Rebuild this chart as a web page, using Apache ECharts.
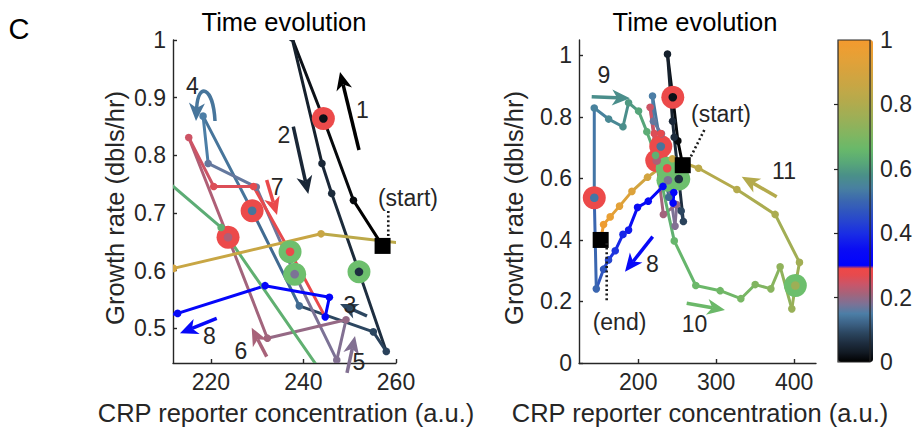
<!DOCTYPE html>
<html>
<head>
<meta charset="utf-8">
<script src="https://cdn.jsdelivr.net/npm/echarts@6/dist/echarts.min.js"></script>
<style>
  html, body { margin: 0; padding: 0; background: #fff; }
  #chart { width: 915px; height: 433px; }
</style>
</head>
<body>
<div id="chart"></div>
<script>
// ---- trajectory samples, in time order ----
const crp = [257.1, 250.8, 244.3, 237.5, 244.0, 246.1, 252.0, 257.9, 255.1, 239.1,
             228.9, 218.3, 219.4, 229.8, 238.1, 247.2, 249.2, 232.2, 223.7, 215.2,
             220.6, 229.2, 237.1, 244.7, 245.6, 231.7, 212.8, 199.1, 187.6, 180.4,
             170.5, 161.9, 155.5, 146.2, 143.6, 143.6, 162.0, 180.4, 187.6, 200.4,
             211.0, 222.2, 246.2, 273.8, 305.1, 331.6, 350.0, 370.1, 382.0, 397.0,
             401.5, 406.8, 375.6, 326.5, 277.3, 243.8, 211.9, 191.9, 176.0, 164.0,
             155.5, 151.8];
const growth = [0.643, 0.722, 0.864, 1.004, 0.786, 0.734, 0.598, 0.460, 0.494, 0.539,
                0.704, 0.868, 0.786, 0.745, 0.594, 0.445, 0.515, 0.483, 0.658, 0.831,
                0.746, 0.746, 0.633, 0.520, 0.554, 0.574, 0.526, 0.506, 0.432, 0.418,
                0.365, 0.335, 0.305, 0.241, 0.537, 0.829, 0.793, 0.768, 0.846, 0.819,
                0.752, 0.675, 0.397, 0.252, 0.235, 0.209, 0.255, 0.241, 0.313, 0.176,
                0.252, 0.327, 0.483, 0.564, 0.633, 0.664, 0.604, 0.558, 0.510, 0.475,
                0.450, 0.400];
// normalised time of each sample (0 = start, 1 = end)
const timeFrac = [0.000, 0.010, 0.020, 0.040, 0.050, 0.055, 0.060, 0.085, 0.090, 0.130,
                  0.140, 0.150, 0.165, 0.172, 0.180, 0.185, 0.200, 0.210, 0.220, 0.245,
                  0.260, 0.270, 0.280, 0.300, 0.310, 0.320, 0.335, 0.350, 0.370, 0.390,
                  0.410, 0.440, 0.470, 0.500, 0.525, 0.545, 0.560, 0.575, 0.595, 0.615,
                  0.630, 0.640, 0.655, 0.665, 0.675, 0.690, 0.705, 0.720, 0.735, 0.750,
                  0.760, 0.770, 0.790, 0.810, 0.830, 0.860, 0.890, 0.920, 0.940, 0.960,
                  0.980, 1.000];
// samples highlighted with a large disc
const redDiscAt = [2, 10, 18, 34];
const greenDiscAt = [6, 14, 22, 50];

// tick values
const leftXTicks = [220, 240, 260];
const leftYTicks = [0.5, 0.6, 0.7, 0.8, 0.9, 1];
const rightXTicks = [200, 300, 400];
const rightYTicks = [0, 0.2, 0.4, 0.6, 0.8, 1];
const barTicks = [0, 0.2, 0.4, 0.6, 0.8, 1];

// colormap stops (time fraction -> colour)
const cmapPos = [0, 0.03, 0.06, 0.09, 0.12, 0.15, 0.18, 0.21, 0.24, 0.27, 0.29, 0.292,
                 0.35, 0.40, 0.45, 0.50, 0.54, 0.58, 0.62, 0.66, 0.70, 0.75, 0.80, 0.85,
                 0.90, 0.95, 1];
const cmapHex = ['#000000', '#121a24', '#1e2e40', '#2c4660', '#3c6286', '#4c7ea6', '#7c7296',
                 '#a2647c', '#c8566a', '#e64a4e', '#ee4848', '#0000ff', '#0a0cf4', '#1a2ee4',
                 '#2a4cc8', '#3a66b0', '#4880a0', '#4a9088', '#58a878', '#68b86a', '#7eb662',
                 '#98b058', '#b0ab4e', '#c4a746', '#d6a33e', '#e6a036', '#f49a2e'];

// annotation arrows, in data coordinates of their panel
const arrows = [
  { panel: 0, label: '1', t: 0.00, from: [252.0, 0.8093], to: [247.9, 0.9445], text: [252.76, 0.8786] },
  { panel: 0, label: '2', t: 0.05, from: [237.8, 0.8497], to: [241.04, 0.733], text: [235.79, 0.8353] },
  { panel: 0, label: '3', t: 0.09, from: [253.73, 0.5215], to: [247.9, 0.5423], text: [250.06, 0.5406] },
  { panel: 0, label: '4', t: 0.14, from: [220.88, 0.8596], c1: [220.45, 0.9203], c2: [217.2, 0.9272], to: [216.77, 0.8596], text: [216.01, 0.9194] },
  { panel: 0, label: '5', t: 0.185, from: [249.41, 0.4227], to: [251.14, 0.4868], text: [252.0, 0.4409] },
  { panel: 0, label: '6', t: 0.215, from: [232.05, 0.451], to: [228.81, 0.5012], text: [226.5, 0.46] },
  { panel: 0, label: '7', t: 0.28, from: [232.05, 0.7573], to: [234.28, 0.6966], text: [234.3, 0.746] },
  { panel: 0, label: '8', t: 0.33, from: [221.25, 0.5175], to: [213.31, 0.4915], text: [219.69, 0.486] },
  { panel: 1, label: '9', t: 0.575, from: [140.29, 0.8657], to: [189.42, 0.8605], text: [156.07, 0.9362] },
  { panel: 1, label: '8', t: 0.33, from: [218.53, 0.4106], to: [183.0, 0.2968], text: [218.28, 0.3218] },
  { panel: 1, label: '10', t: 0.665, from: [262.14, 0.194], to: [311.27, 0.1723], text: [272.15, 0.1268] },
  { panel: 1, label: '11', t: 0.81, from: [377.6, 0.5406], to: [332.7, 0.6056], text: [386.95, 0.6241] }
];
// "(start)" / "(end)" callouts: text position and dotted leader
const callouts = [
  { panel: 0, text: '(start)', at: [262.59, 0.7261], lead: [[258.33, 0.7035], [258.33, 0.6567]] },
  { panel: 1, text: '(start)', at: [306.14, 0.8094], lead: [[284.72, 0.7574], [266.38, 0.6654]] },
  { panel: 1, text: '(end)', at: [175.95, 0.1349], lead: [[159.53, 0.3901], [159.53, 0.1983]] }
];

const FONT = '"Liberation Sans", Arial, Helvetica, sans-serif';
const INK = '#262626';
const RED_DISC = '#ec4a4a';
const GREEN_DISC = '#6dbf6d';

function hexToRgb(h) {
  return [parseInt(h.slice(1, 3), 16), parseInt(h.slice(3, 5), 16), parseInt(h.slice(5, 7), 16)];
}
function colorAt(t) {
  t = Math.max(0, Math.min(1, t));
  let k = 0;
  while (k < cmapPos.length - 2 && t > cmapPos[k + 1]) k++;
  const a = hexToRgb(cmapHex[k]), b = hexToRgb(cmapHex[k + 1]);
  const f = (t - cmapPos[k]) / (cmapPos[k + 1] - cmapPos[k]);
  const c = a.map((v, i) => Math.round(v + (b[i] - v) * Math.max(0, Math.min(1, f))));
  return 'rgb(' + c.join(',') + ')';
}
const barColors = [];
for (let k = 0; k <= 200; k++) barColors.push(colorAt(k / 200));

// rows: x, y, t, previous x, previous y, previous t, disc kind (0 none, 1 red, 2 green)
const trajRows = crp.map((x, i) => [
  x, growth[i], timeFrac[i],
  i > 0 ? crp[i - 1] : NaN, i > 0 ? growth[i - 1] : NaN, i > 0 ? timeFrac[i - 1] : NaN,
  redDiscAt.includes(i) ? 1 : (greenDiscAt.includes(i) ? 2 : 0)
]);
const last = crp.length - 1;
const squares = [[crp[0], growth[0]], [crp[last], growth[last]]];

function renderStep(params, api) {
  const p = api.coord([api.value(0), api.value(1)]);
  const children = [];
  const px = api.value(3);
  if (!isNaN(px)) {
    const q = api.coord([px, api.value(4)]);
    children.push({
      type: 'line', z2: 1,
      shape: { x1: q[0], y1: q[1], x2: p[0], y2: p[1] },
      style: { stroke: colorAt(api.value(5)), lineWidth: 3, lineCap: 'round' }
    });
  }
  const kind = api.value(6);
  if (kind) {
    children.push({
      type: 'circle', z2: 2,
      shape: { cx: p[0], cy: p[1], r: 11.5 },
      style: { fill: kind === 1 ? RED_DISC : GREEN_DISC }
    });
  }
  children.push({
    type: 'circle', z2: 3,
    shape: { cx: p[0], cy: p[1], r: kind ? 4.3 : 3.8 },
    style: { fill: colorAt(api.value(2)) }
  });
  return { type: 'group', children };
}

const fmt = v => String(+(+v).toFixed(2));

function valueAxis(grid, min, max, ticks, extra) {
  return Object.assign({
    type: 'value', gridIndex: grid, min: min, max: max,
    axisLine: { show: true, onZero: false, lineStyle: { color: INK, width: 1.4 } },
    axisTick: { show: true, inside: true, length: 4, customValues: ticks, lineStyle: { color: INK, width: 1.4 } },
    axisLabel: { customValues: ticks, formatter: fmt, color: INK, fontSize: 23, fontFamily: FONT, margin: 7 },
    splitLine: { show: false }
  }, extra || {});
}

const chart = echarts.init(document.getElementById('chart'), null, { renderer: 'svg' });

const squareStyle = { color: '#000', opacity: 1 };
const option = {
  animation: false,
  backgroundColor: '#ffffff',
  grid: [
    { left: 173, top: 40, width: 223, height: 323 },
    { left: 579, top: 40, width: 237, height: 323 },
    { left: 838, top: 40, width: 35, height: 322, show: true, borderColor: INK, borderWidth: 1.2, backgroundColor: 'transparent', z: 10 }
  ],
  xAxis: [
    valueAxis(0, 211.8, 260, leftXTicks),
    valueAxis(1, 124, 428, rightXTicks),
    { type: 'value', gridIndex: 2, min: 0, max: 1, show: false }
  ],
  yAxis: [
    valueAxis(0, 0.44, 1, leftYTicks),
    valueAxis(1, 0, 1.05, rightYTicks),
    {
      type: 'value', gridIndex: 2, min: 0, max: 1, position: 'right', z: 10,
      axisLine: { show: false },
      axisTick: { show: true, inside: true, length: 4, customValues: [0.2, 0.4, 0.6, 0.8], lineStyle: { color: INK, width: 1.2 } },
      axisLabel: { customValues: barTicks, formatter: fmt, color: INK, fontSize: 23, fontFamily: FONT, margin: 10 },
      splitLine: { show: false }
    }
  ],
  visualMap: {
    type: 'continuous', min: 0, max: 1, dimension: 2, seriesIndex: [0, 2],
    calculable: false, show: true, left: 838, top: 40, padding: 0,
    itemWidth: 35, itemHeight: 322, text: null, showLabel: false,
    inRange: { color: barColors }, hoverLink: false
  },
  series: [
    {
      type: 'custom', xAxisIndex: 0, yAxisIndex: 0, clip: true, silent: true,
      data: trajRows, encode: { x: 0, y: 1 }, renderItem: renderStep
    },
    {
      type: 'scatter', xAxisIndex: 0, yAxisIndex: 0, clip: true, silent: true, z: 5,
      symbol: 'rect', symbolSize: 16, itemStyle: squareStyle, data: squares
    },
    {
      type: 'custom', xAxisIndex: 1, yAxisIndex: 1, clip: true, silent: true,
      data: trajRows, encode: { x: 0, y: 1 }, renderItem: renderStep
    },
    {
      type: 'scatter', xAxisIndex: 1, yAxisIndex: 1, clip: true, silent: true, z: 5,
      symbol: 'rect', symbolSize: 16, itemStyle: squareStyle, data: squares
    }
  ]
};
chart.setOption(option);

// ---- overlay text and annotation arrows ----
function toPx(panel, pt) { return chart.convertToPixel({ gridIndex: panel }, pt); }
function txt(x, y, text, size, color, extra) {
  return Object.assign({
    type: 'text', x: x, y: y, silent: true, z: 50,
    style: { text: text, fill: color, fontSize: size, fontFamily: FONT, align: 'center', verticalAlign: 'middle' }
  }, extra || {});
}

const HEAD_L = 18, HEAD_W = 16, NOTCH = 0.72;
function arrowElems(a) {
  const col = colorAt(a.t);
  const P0 = toPx(a.panel, a.from), T = toPx(a.panel, a.to);
  const ref = a.c2 ? toPx(a.panel, a.c2) : P0;
  let dx = T[0] - ref[0], dy = T[1] - ref[1];
  const len = Math.hypot(dx, dy); dx /= len; dy /= len;
  const nx = -dy, ny = dx;
  const back = [T[0] - dx * HEAD_L, T[1] - dy * HEAD_L];
  const notch = [T[0] - dx * HEAD_L * NOTCH, T[1] - dy * HEAD_L * NOTCH];
  const els = [];
  if (a.c1) {
    const C1 = toPx(a.panel, a.c1), C2 = toPx(a.panel, a.c2);
    els.push({
      type: 'bezierCurve', silent: true, z: 40,
      shape: { x1: P0[0], y1: P0[1], cpx1: C1[0], cpy1: C1[1], cpx2: C2[0], cpy2: C2[1], x2: notch[0], y2: notch[1] },
      style: { stroke: col, lineWidth: 3.5, fill: null }
    });
  } else {
    els.push({
      type: 'line', silent: true, z: 40,
      shape: { x1: P0[0], y1: P0[1], x2: notch[0], y2: notch[1] },
      style: { stroke: col, lineWidth: 3.5 }
    });
  }
  els.push({
    type: 'polygon', silent: true, z: 41,
    shape: { points: [
      T,
      [back[0] + nx * HEAD_W / 2, back[1] + ny * HEAD_W / 2],
      notch,
      [back[0] - nx * HEAD_W / 2, back[1] - ny * HEAD_W / 2]
    ] },
    style: { fill: col }
  });
  const L = toPx(a.panel, a.text);
  els.push(txt(L[0], L[1], a.label, 23, INK));
  return els;
}

const graphics = [
  txt(19, 29, 'C', 29, '#000'),
  txt(284, 22, 'Time evolution', 25.5, '#000'),
  txt(695, 22, 'Time evolution', 25.5, '#000'),
  txt(286, 413, 'CRP reporter concentration (a.u.)', 25.5, INK),
  txt(700, 413, 'CRP reporter concentration (a.u.)', 25.5, INK),
  txt(115, 208, 'Growth rate (dbls/hr)', 25.5, INK, { rotation: Math.PI / 2 }),
  txt(514, 208, 'Growth rate (dbls/hr)', 25.5, INK, { rotation: Math.PI / 2 })
];
arrows.forEach(a => arrowElems(a).forEach(e => graphics.push(e)));
callouts.forEach(c => {
  const A = toPx(c.panel, c.lead[0]), B = toPx(c.panel, c.lead[1]);
  graphics.push({
    type: 'line', silent: true, z: 40,
    shape: { x1: A[0], y1: A[1], x2: B[0], y2: B[1] },
    style: { stroke: '#1a1a1a', lineWidth: 2.6, lineDash: [2, 2.6] }
  });
  const P = toPx(c.panel, c.at);
  graphics.push(txt(P[0], P[1], c.text, 23, INK));
});
chart.setOption({ graphic: graphics });
</script>
</body>
</html>
